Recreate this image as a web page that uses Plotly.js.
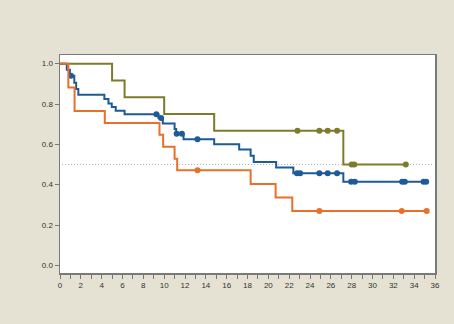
<!DOCTYPE html>
<html>
<head>
<meta charset="utf-8">
<script src="https://cdn.plot.ly/plotly-3.0.1.min.js"></script>
<style>html,body{margin:0;padding:0;background:#e5e2d3;}#chart{width:454px;height:324px;}</style>
</head>
<body>
<div id="chart"></div>
<script>
// Green group
var greenTimes = [0, 5.0, 6.2, 10.0, 14.8, 27.2];
var greenSurv  = [1.0, 0.917, 0.833, 0.75, 0.667, 0.5];
var greenEnd   = 33.2;
var greenCensor = [22.8, 24.9, 25.7, 26.6, 28.0, 28.25, 33.2];

// Blue group
var blueTimes = [0, 0.65, 0.95, 1.37, 1.55, 1.76, 4.26, 4.65, 4.97, 5.35, 6.2, 9.45, 9.87, 11.0, 11.15, 11.86, 14.8, 17.2, 18.3, 18.6, 20.75, 22.4, 27.2];
var blueSurv  = [1.0, 0.97, 0.94, 0.905, 0.875, 0.846, 0.825, 0.803, 0.785, 0.767, 0.749, 0.731, 0.703, 0.676, 0.653, 0.625, 0.6, 0.574, 0.544, 0.512, 0.485, 0.457, 0.414];
var blueEnd   = 35.2;
var blueCensor = [1.05, 9.25, 9.7, 11.2, 11.7, 13.2, 22.75, 23.05, 24.9, 25.7, 26.6, 27.95, 28.3, 32.85, 33.1, 34.9, 35.15];

// Orange group
var orangeTimes = [0, 0.8, 1.4, 4.3, 9.55, 9.9, 11.0, 11.25, 18.3, 20.7, 22.3];
var orangeSurv  = [1.0, 0.882, 0.765, 0.706, 0.647, 0.588, 0.529, 0.471, 0.403, 0.336, 0.269];
var orangeEnd   = 35.2;
var orangeCensor = [13.2, 24.9, 32.8, 35.2];

var xTickVals = [0,2,4,6,8,10,12,14,16,18,20,22,24,26,28,30,32,34,36];
var yTickVals = [0, 0.2, 0.4, 0.6, 0.8, 1.0];
var medianLevel = 0.5;

var GREEN = '#7d7b2c', BLUE = '#1e5a96', ORANGE = '#e8702a';

function stepXY(times, surv, end) {
  return {x: times.concat([end]), y: surv.concat([surv[surv.length-1]])};
}
function survAt(times, surv, t) {
  var s = surv[0];
  for (var i = 0; i < times.length; i++) { if (times[i] <= t) s = surv[i]; }
  return s;
}

function groupTraces(times, surv, end, cens, color) {
  var st = stepXY(times, surv, end);
  return [
    {x: st.x, y: st.y, type: 'scatter', mode: 'lines', line: {shape: 'hv', color: color, width: 2}, hoverinfo: 'skip', showlegend: false},
    {x: cens, y: cens.map(function(t){return survAt(times, surv, t);}), type: 'scatter', mode: 'markers',
     marker: {color: color, size: 6, symbol: 'circle'}, showlegend: false}
  ];
}

var data = [].concat(
  groupTraces(greenTimes, greenSurv, greenEnd, greenCensor, GREEN),
  groupTraces(blueTimes, blueSurv, blueEnd, blueCensor, BLUE),
  groupTraces(orangeTimes, orangeSurv, orangeEnd, orangeCensor, ORANGE)
);

var layout = {
  width: 454, height: 324,
  paper_bgcolor: '#e5e2d3', plot_bgcolor: '#ffffff',
  margin: {l: 60, r: 19, t: 55, b: 51},
  font: {family: 'Liberation Sans, Arial, sans-serif', size: 8, color: '#333'},
  showlegend: false,
  xaxis: {
    range: [0, 36], tickvals: xTickVals, ticktext: xTickVals.map(String),
    ticks: 'outside', ticklen: 4, tickwidth: 1, tickcolor: '#777',
    minor: {dtick: 1, tick0: 0, ticks: 'outside', ticklen: 4, tickcolor: '#777', showgrid: false},
    showline: true, linecolor: '#7a7a7a', linewidth: 1.5, mirror: true,
    showgrid: false, zeroline: false, tickfont: {size: 8, color: '#333'}
  },
  yaxis: {
    range: [-0.038, 1.043], tickvals: yTickVals, ticktext: yTickVals.map(function(v){return v.toFixed(1);}),
    ticks: 'outside', ticklen: 4, tickwidth: 1, tickcolor: '#777',
    showline: true, linecolor: '#7a7a7a', linewidth: 1.5, mirror: true,
    showgrid: false, zeroline: false, tickfont: {size: 8, color: '#333'}
  },
  shapes: [
    {type: 'line', xref: 'x', yref: 'y', x0: 0.2, x1: 35.8, y0: medianLevel, y1: medianLevel,
     line: {color: '#b0b0b0', width: 1, dash: '1px,2px'}, layer: 'below'}
  ]
};

Plotly.newPlot('chart', data, layout, {displayModeBar: false, staticPlot: true});
</script>
</body>
</html>
